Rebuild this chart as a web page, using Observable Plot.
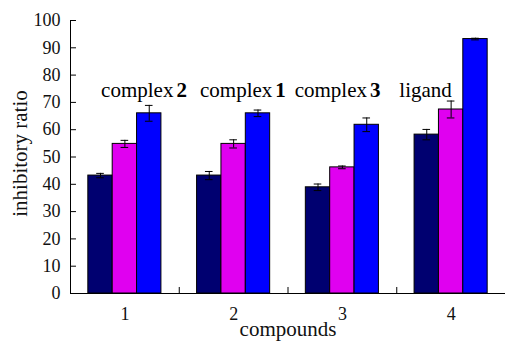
<!DOCTYPE html>
<html>
<head>
<meta charset="utf-8">
<script src="https://cdn.jsdelivr.net/npm/d3@7"></script>
<script src="https://cdn.jsdelivr.net/npm/@observablehq/plot@0.6"></script>
<style>
  html, body { margin: 0; padding: 0; background: #fff; }
  #chart svg { display: block; font-family: "Liberation Serif", "Times New Roman", serif; }
</style>
</head>
<body>
<div id="chart"></div>
<script>
// Compounds on the x axis
const compounds = [1, 2, 3, 4];

// Three bars per compound, with their error bars
const seriesNames = ["A", "B", "C"];
const seriesColors = ["#000070", "#e000f0", "#0000ff"];
const valuesA = [43.2, 43.2, 38.9, 58.2];
const valuesB = [54.8, 54.8, 46.2, 67.4];
const valuesC = [66.0, 66.0, 61.8, 93.2];
const errorsA = [0.8, 1.5, 1.2, 1.9];
const errorsB = [1.3, 1.5, 0.5, 3.1];
const errorsC = [2.9, 1.2, 2.5, 0.3];

// Labels written above the groups: name plus bold number
const groupNames = ["complex", "complex", "complex", "ligand"];
const groupNumbers = ["2", "1", "3", ""];
const groupLabelX = [1.46, 2.37, 3.24, 4.02];
const groupLabelY = 72;

const yTicks = d3.range(0, 101, 10);

const allValues = [valuesA, valuesB, valuesC];
const allErrors = [errorsA, errorsB, errorsC];
const barWidth = 0.224;

const bars = [];
seriesNames.forEach((s, i) => {
  compounds.forEach((c, j) => {
    const center = c + (i - 1) * barWidth;
    bars.push({
      series: s,
      compound: c,
      x1: center - barWidth / 2,
      x2: center + barWidth / 2,
      xc: center,
      value: allValues[i][j],
      err: allErrors[i][j]
    });
  });
});

const labels = groupNames.map((n, i) => ({name: n, num: groupNumbers[i], x: groupLabelX[i], y: groupLabelY}));

const capHalf = 0.035;
const xMin = 0.5, xMax = 4.5;
const serif = "Liberation Serif";

const chart = Plot.plot({
  width: 505,
  height: 341,
  marginLeft: 70,
  marginRight: 0,
  marginTop: 20,
  marginBottom: 48,
  style: {fontFamily: serif, fontSize: "18px", color: "#111", background: "#fff"},
  x: {domain: [xMin, xMax]},
  y: {domain: [0, 100]},
  color: {domain: seriesNames, range: seriesColors},
  marks: [
    Plot.axisY({ticks: yTicks, tickSize: 0, tickPadding: 10, fontSize: 18, fontFamily: serif, label: null}),
    Plot.axisX({ticks: compounds, tickSize: 0, tickPadding: 14, fontSize: 18, fontFamily: serif, tickFormat: d => String(d), label: null}),
    // axis titles
    Plot.text(["inhibitory ratio"], {frameAnchor: "left", textAnchor: "middle", lineAnchor: "middle", rotate: -90, dx: -50, dy: -3.5, fontSize: 21, fontFamily: serif, fill: "#111"}),
    Plot.text(["compounds"], {frameAnchor: "bottom", textAnchor: "middle", lineAnchor: "bottom", dy: 42, fontSize: 21, fontFamily: serif, fill: "#111"}),
    Plot.rectY(bars, {x1: "x1", x2: "x2", y1: 0, y2: "value", fill: "series", stroke: "#000", strokeWidth: 1}),
    // error bars
    Plot.ruleX(bars, {x: "xc", y1: d => d.value - d.err, y2: d => d.value + d.err, stroke: "#000", strokeWidth: 1}),
    Plot.ruleY(bars, {y: d => d.value - d.err, x1: d => d.xc - capHalf, x2: d => d.xc + capHalf, stroke: "#000", strokeWidth: 1}),
    Plot.ruleY(bars, {y: d => d.value + d.err, x1: d => d.xc - capHalf, x2: d => d.xc + capHalf, stroke: "#000", strokeWidth: 1}),
    // axis lines and inward ticks
    Plot.ruleX([xMin], {y1: 0, y2: 100, stroke: "#000"}),
    Plot.ruleY([0], {x1: xMin, x2: xMax, stroke: "#000"}),
    Plot.ruleY(yTicks, {y: d => d, x1: xMin, x2: xMin + 0.055, stroke: "#000"}),
    Plot.ruleX([1.5, 2.5, 3.5, 4.5], {x: d => d, y1: 0, y2: 2.2, stroke: "#000"}),
    // group labels
    Plot.text(labels, {x: "x", y: "y", text: "name", textAnchor: "end", lineAnchor: "bottom", fontSize: 21, fontFamily: serif, dx: -1.5, fill: "#000"}),
    Plot.text(labels, {x: "x", y: "y", text: "num", textAnchor: "start", lineAnchor: "bottom", fontSize: 21, fontFamily: serif, fontWeight: "bold", dx: 1.5, fill: "#000"})
  ]
});

document.getElementById("chart").appendChild(chart);
</script>
</body>
</html>
